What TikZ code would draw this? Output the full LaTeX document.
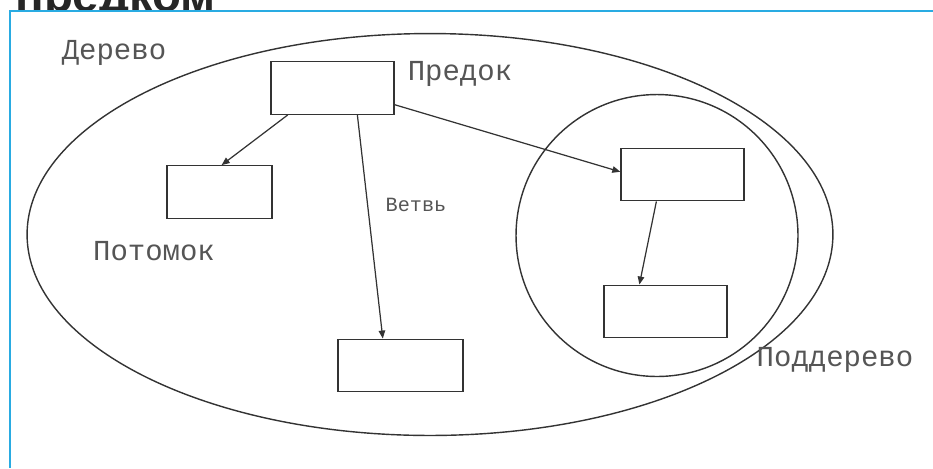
\documentclass[tikz,border=0pt]{standalone}
\usepackage{fontspec}
\setmainfont{Liberation Serif}
\setsansfont{Liberation Sans}
\setmonofont{Liberation Mono}
\usetikzlibrary{arrows.meta,shapes.geometric,calc}
\definecolor{inkgray}{HTML}{333333}
\definecolor{labelgray}{HTML}{555555}
\definecolor{frameblue}{HTML}{29ABE2}

\begin{document}
\begin{tikzpicture}[
      x=0.02cm, y=-0.02cm,
      box/.style={draw=inkgray, line width=0.8pt, minimum width=2.46cm, minimum height=1.05cm, inner sep=0pt},
      lbl/.style={text=labelgray, font=\ttfamily\fontsize{16.5}{18}\selectfont, inner sep=0pt, anchor=base},
      edge/.style={draw=inkgray, line width=0.7pt, -{Triangle[length=1.6mm,width=1.3mm]}}
    ]
    \useasboundingbox (0,0) rectangle (933,468);
    \begin{scope}
      \clip (0,0) rectangle (933,10);
      \node[anchor=base west, inner sep=0pt, text=black!85,
            font=\sffamily\bfseries\fontsize{27}{30}\selectfont] (head) at (15,11) {предком};
    \end{scope}
    \draw[frameblue, line width=1.2pt] (933,11) -- (10,11) -- (10,468);

    \node[draw=inkgray, line width=0.8pt, ellipse, minimum width=16.12cm, minimum height=8.04cm, inner sep=0pt] (tree) at (430,234.5) {};
    \node[draw=inkgray, line width=0.8pt, circle, minimum size=5.64cm, inner sep=0pt] (subtree) at (657,235.5) {};

    \node[box] (root) at (332.5,88) {};
    \node[box, minimum width=2.1cm] (lchild) at (219.5,192) {};
    \node[box, minimum width=2.5cm] (bchild) at (400.5,365.5) {};
    \node[box] (sroot) at (682.5,174.5) {};
    \node[box] (schild) at (665.5,311.5) {};

    \node[lbl] (treelbl) at (114,59) {Дерево};
    \node[lbl] (rootlbl) at (460,80) {Предок};
    \node[lbl] (childlbl) at (154,260) {Потомок};
    \node[lbl, font=\ttfamily\fontsize{11.5}{13}\selectfont] (branchlbl) at (416,211) {Ветвь};
    \node[lbl] (subtreelbl) at (835,366) {Поддерево};

    \draw[edge] ($(root.south west)!0.14!(root.south east)$) -- ($(lchild.north west)!0.52!(lchild.north east)$);
    \draw[edge] ($(root.south west)!0.70!(root.south east)$) -- ($(bchild.north west)!0.36!(bchild.north east)$);
    \draw[edge] ($(root.north east)!0.81!(root.south east)$) -- ($(sroot.north west)!0.45!(sroot.south west)$);
    \draw[edge] ($(sroot.south west)!0.29!(sroot.south east)$) -- ($(schild.north west)!0.29!(schild.north east)$);
  \end{tikzpicture}
\end{document}
